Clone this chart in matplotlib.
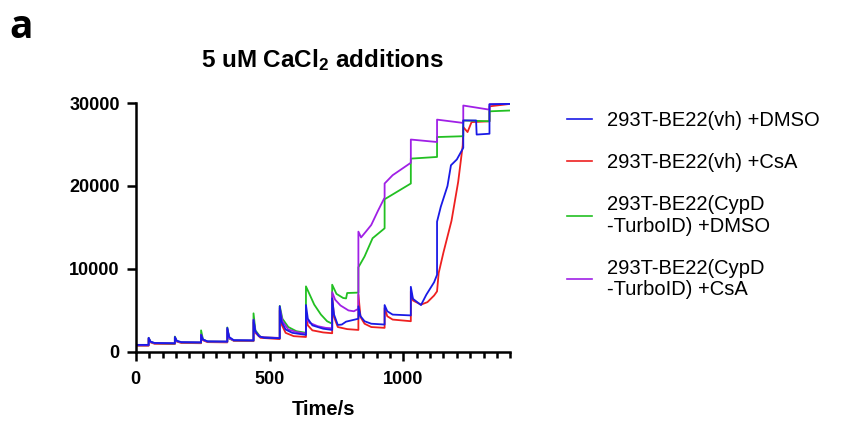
import matplotlib
matplotlib.use("Agg")
import matplotlib.pyplot as plt
from matplotlib.ticker import MultipleLocator

plt.rcParams['font.family'] = ['Liberation Sans', 'DejaVu Sans']
plt.rcParams['mathtext.fontset'] = 'custom'
plt.rcParams['mathtext.bf'] = 'Liberation Sans:bold'
plt.rcParams['mathtext.rm'] = 'Liberation Sans:bold'
plt.rcParams['mathtext.default'] = 'bf'

# traces (time in s, signal in a.u.)
blue_t = [0, 48, 48, 55, 70, 146, 146, 153, 170, 244, 244, 251, 268, 342, 342, 349, 366, 440,
          440, 447, 460, 480, 538, 538, 545, 560, 585, 636, 636, 643, 660, 700, 734,
          734, 741, 755, 770, 786, 832, 832, 840, 855, 880, 930, 930, 940, 960, 1028,
          1028, 1036, 1066, 1086, 1115, 1126, 1126, 1140, 1165, 1178, 1200, 1224,
          1224, 1272, 1274, 1322, 1322, 1400]
blue_v = [850, 850, 1700, 1250, 1080, 1050, 1800, 1350, 1180, 1150, 2050, 1500, 1270, 1250,
          2900, 1800, 1420, 1400, 3850, 2500, 1900, 1700, 1650, 5500, 3600, 2700, 2300, 2050,
          5650, 4000, 3200, 2800, 2650, 6450, 4500, 3250, 3300, 3650, 4000,
          5500, 4300, 3700, 3400, 3300, 5650, 4900, 4500, 4400,
          7850, 6400, 5650, 6900, 8400, 9300, 15700, 17500, 20000, 22500, 23200, 24600,
          27900, 27900, 26200, 26300, 29850, 29900]

red_t = [0, 48, 48, 55, 70, 146, 146, 153, 170, 244, 244, 251, 268, 342, 342, 349, 366, 440,
         440, 447, 466, 538, 538, 545, 560, 590, 636, 636, 643, 660, 700, 734,
         734, 741, 755, 790, 832, 832, 840, 855, 880, 930, 930, 940, 960, 1028,
         1028, 1036, 1066, 1090, 1115, 1126, 1132, 1150, 1180, 1205, 1222,
         1224, 1240, 1255, 1322, 1322, 1400]
red_v = [750, 750, 1600, 1150, 980, 950, 1700, 1250, 1080, 1050, 1900, 1400, 1180, 1150,
         2700, 1700, 1330, 1300, 3600, 2300, 1700, 1550, 5000, 3300, 2300, 1900, 1800,
         4300, 3200, 2600, 2350, 2250, 6700, 4200, 3000, 2750, 2650,
         6900, 4200, 3400, 3000, 2900, 5300, 4300, 3900, 3700,
         7300, 6200, 5700, 6000, 6800, 7300, 9500, 12000, 15800, 20500, 24900,
         27100, 26500, 27700, 27800, 29600, 29900]

green_t = [0, 48, 48, 55, 70, 146, 146, 153, 170, 244, 244, 251, 268, 342, 342, 349, 366, 440,
           440, 447, 466, 538, 538, 548, 570, 600, 636, 636, 667, 692, 715, 734,
           734, 750, 775, 786, 790, 832, 832, 855, 885, 930, 930, 1028, 1028, 1126,
           1126, 1224, 1224, 1322, 1322, 1400]
green_v = [800, 800, 1700, 1200, 1050, 1000, 1850, 1300, 1150, 1120, 2600, 1500, 1250, 1230,
           2950, 1600, 1380, 1350, 4650, 2600, 1800, 1650, 5550, 4000, 3000, 2500, 2300,
           7900, 5700, 4500, 3700, 3400, 8100, 7000, 6500, 6450, 7100, 7150,
           10200, 11500, 13700, 14900, 18400, 20300, 23300, 23500,
           25900, 26000, 27900, 27800, 29000, 29100]

purple_t = [0, 48, 48, 55, 70, 146, 146, 153, 170, 244, 244, 251, 268, 342, 342, 349, 366, 440,
            440, 447, 466, 538, 538, 548, 570, 600, 636, 636, 650, 680, 710, 734,
            734, 745, 765, 795, 815, 832, 832, 842, 860, 880, 905, 930, 930, 960, 1028,
            1028, 1126, 1126, 1224, 1224, 1322, 1322, 1400]
purple_v = [800, 800, 1650, 1200, 1050, 1020, 1750, 1300, 1150, 1130, 2100, 1450, 1250, 1230,
            2800, 1650, 1380, 1360, 3900, 2400, 1800, 1680, 5300, 3700, 2700, 2400, 2200,
            4100, 3500, 3100, 2900, 2850, 7200, 6300, 5600, 5000, 4900, 5200,
            14500, 13800, 14500, 15300, 17000, 18600, 20300, 21300, 22800,
            25600, 25300, 28000, 27600, 29700, 29200, 29850, 29900]

labels = ["293T-BE22(vh) +DMSO", "293T-BE22(vh) +CsA",
          "293T-BE22(CypD\n-TurboID) +DMSO", "293T-BE22(CypD\n-TurboID) +CsA"]
colors = ["#1a1ae6", "#ee2020", "#22c022", "#a020e6"]

fig = plt.figure(figsize=(8.65, 4.24), dpi=100)
ax = fig.add_axes([0.157, 0.17, 0.433, 0.587])

lr, = ax.plot(red_t, red_v, color=colors[1], lw=1.3)
lg, = ax.plot(green_t, green_v, color=colors[2], lw=1.3)
lp, = ax.plot(purple_t, purple_v, color=colors[3], lw=1.3)
lb, = ax.plot(blue_t, blue_v, color=colors[0], lw=1.3)

ax.set_xlim(0, 1400)
ax.set_ylim(0, 30000)
ax.xaxis.set_major_locator(MultipleLocator(500))
ax.xaxis.set_minor_locator(MultipleLocator(50))
ax.yaxis.set_major_locator(MultipleLocator(10000))
for s in ['top', 'right']:
    ax.spines[s].set_visible(False)
for s in ['left', 'bottom']:
    ax.spines[s].set_linewidth(1.8)
ax.tick_params(which='major', length=6.5, width=1.8, labelsize=13, pad=5)
ax.tick_params(axis='x', which='major', pad=7)
ax.tick_params(which='minor', length=4, width=1.8)
for lab in ax.get_xticklabels() + ax.get_yticklabels():
    lab.set_fontweight('bold')

ax.set_xlabel("Time/s", fontsize=14.5, fontweight='bold', labelpad=9)
fig.text(0.373, 1 - 60 / 424, r"5 uM CaCl$_2$ additions", fontsize=17.5,
         fontweight='bold', ha='center', va='center')
fig.text(0.011, 1 - 28 / 424, "a", fontsize=28, fontweight='bold',
         family=['Open Sans', 'DejaVu Sans'], ha='left', va='center')

leg = fig.legend([lb, lr, lg, lp], labels, loc='upper left',
                 bbox_to_anchor=(0.655, 0.738), frameon=False, fontsize=14.5,
                 borderpad=0, borderaxespad=0, handlelength=1.25,
                 handletextpad=0.75, labelspacing=1.15)
for t in leg.get_texts():
    t.set_linespacing(1.15)
for h in leg.get_lines():
    h.set_linewidth(1.2)

fig.savefig("out.png", dpi=100)
